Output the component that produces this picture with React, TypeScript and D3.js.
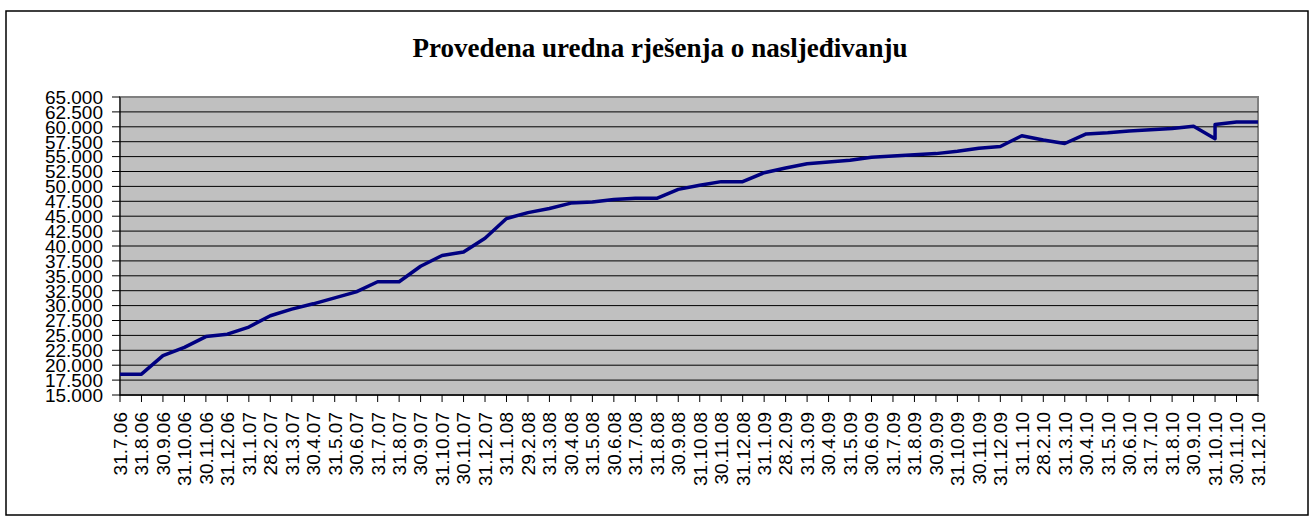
import React, { useEffect, useRef } from 'react'
import * as d3 from 'd3'

const title = 'Provedena uredna rješenja o nasljeđivanju'

const categories = [
  '31.7.06', '31.8.06', '30.9.06', '31.10.06', '30.11.06', '31.12.06',
  '31.1.07', '28.2.07', '31.3.07', '30.4.07', '31.5.07', '30.6.07',
  '31.7.07', '31.8.07', '30.9.07', '31.10.07', '30.11.07', '31.12.07',
  '31.1.08', '29.2.08', '31.3.08', '30.4.08', '31.5.08', '30.6.08',
  '31.7.08', '31.8.08', '30.9.08', '31.10.08', '30.11.08', '31.12.08',
  '31.1.09', '28.2.09', '31.3.09', '30.4.09', '31.5.09', '30.6.09',
  '31.7.09', '31.8.09', '30.9.09', '31.10.09', '30.11.09', '31.12.09',
  '31.1.10', '28.2.10', '31.3.10', '30.4.10', '31.5.10', '30.6.10',
  '31.7.10', '31.8.10', '30.9.10', '31.10.10', '30.11.10', '31.12.10',
]

// values 31.7.06 .. 31.10.10 (last one is the low reading)
const mainValues = [
  18500, 18500, 21600, 23000, 24800, 25200,
  26400, 28300, 29400, 30300, 31300, 32300,
  34000, 34000, 36600, 38400, 39000, 41300,
  44600, 45600, 46300, 47200, 47400, 47800,
  48000, 48000, 49500, 50200, 50800, 50800,
  52300, 53100, 53800, 54100, 54400, 54900,
  55100, 55300, 55500, 55900, 56400, 56700,
  58500, 57800, 57200, 58800, 59000, 59300,
  59500, 59700, 60100, 58000,
]

// corrected 31.10.10 reading, then the last two months
const tailCategories = ['31.10.10', '30.11.10', '31.12.10']
const tailValues = [60400, 60800, 60800]

const yTicks = d3.range(15000, 65001, 2500)

const fmt = (v: number) => {
  const s = String(v)
  return s.slice(0, s.length - 3) + '.' + s.slice(-3)
}

export default function App() {
  const svgRef = useRef<SVGSVGElement>(null)

  useEffect(() => {
    document.body.style.margin = '0'
    const svg = d3.select(svgRef.current)
    svg.selectAll('*').remove()

    const width = 1314
    const height = 517
    const left = 120
    const right = 1258
    const top = 97
    const bottom = 395

    const x = d3.scalePoint<string>().domain(categories).range([left, right])
    const y = d3.scaleLinear().domain([15000, 65000]).range([bottom, top])

    svg.attr('width', width).attr('height', height)

    // outer frame
    svg.append('rect')
      .attr('x', 6).attr('y', 11)
      .attr('width', 1302).attr('height', 504)
      .attr('fill', '#fff')
      .attr('stroke', '#000')
      .attr('stroke-width', 1.5)

    svg.append('text')
      .attr('x', 660)
      .attr('y', 57)
      .attr('text-anchor', 'middle')
      .attr('textLength', 495)
      .attr('lengthAdjust', 'spacingAndGlyphs')
      .style('font-family', '"Times New Roman", "Liberation Serif", serif')
      .style('font-weight', 'bold')
      .style('font-size', '28px')
      .text(title)

    // plot area
    svg.append('rect')
      .attr('x', left).attr('y', top)
      .attr('width', right - left).attr('height', bottom - top)
      .attr('fill', '#c0c0c0')
      .attr('stroke', '#808080')
      .attr('stroke-width', 2)

    // gridlines
    svg.append('g')
      .selectAll('line')
      .data(yTicks.slice(1, -1))
      .enter()
      .append('line')
      .attr('x1', left).attr('x2', right)
      .attr('y1', d => y(d)).attr('y2', d => y(d))
      .attr('stroke', '#000')
      .attr('stroke-width', 1)

    // y axis
    const yAxis = svg.append('g')
    yAxis.append('line')
      .attr('x1', left).attr('x2', left)
      .attr('y1', top).attr('y2', bottom)
      .attr('stroke', '#000').attr('stroke-width', 1)
    yAxis.selectAll('line.tick')
      .data(yTicks)
      .enter()
      .append('line')
      .attr('class', 'tick')
      .attr('x1', left - 8).attr('x2', left)
      .attr('y1', d => y(d)).attr('y2', d => y(d))
      .attr('stroke', '#000')
    yAxis.selectAll('text')
      .data(yTicks)
      .enter()
      .append('text')
      .attr('x', 103)
      .attr('y', d => y(d))
      .attr('dy', '0.36em')
      .attr('text-anchor', 'end')
      .style('font-family', 'Arial, "Liberation Sans", sans-serif')
      .style('font-size', '19px')
      .text(d => fmt(d))

    // x axis
    const xAxis = svg.append('g')
    xAxis.append('line')
      .attr('x1', left).attr('x2', right)
      .attr('y1', bottom).attr('y2', bottom)
      .attr('stroke', '#000').attr('stroke-width', 1.5)
    xAxis.selectAll('line.tick')
      .data(categories)
      .enter()
      .append('line')
      .attr('class', 'tick')
      .attr('x1', d => x(d)!).attr('x2', d => x(d)!)
      .attr('y1', bottom).attr('y2', bottom + 7)
      .attr('stroke', '#000')
    xAxis.selectAll('text')
      .data(categories)
      .enter()
      .append('text')
      .attr('transform', d => `translate(${x(d)},412) rotate(-90)`)
      .attr('dy', '0.36em')
      .attr('text-anchor', 'end')
      .style('font-family', 'Arial, "Liberation Sans", sans-serif')
      .style('font-size', '19px')
      .text(d => d)

    const line = d3.line<[string, number]>()
      .x(d => x(d[0])!)
      .y(d => y(d[1]))

    // one continuous line: the 31.10.10 category carries both readings
    const points: Array<[string, number]> = [
      ...mainValues.map((v, i) => [categories[i], v] as [string, number]),
      ...tailValues.map((v, i) => [tailCategories[i], v] as [string, number]),
    ]

    svg.append('path')
      .datum(points)
      .attr('d', line)
      .attr('fill', 'none')
      .attr('stroke', '#000080')
      .attr('stroke-width', 3.5)
      .attr('stroke-linejoin', 'round')
  }, [])

  return <svg ref={svgRef} style={{ display: 'block' }} />
}
